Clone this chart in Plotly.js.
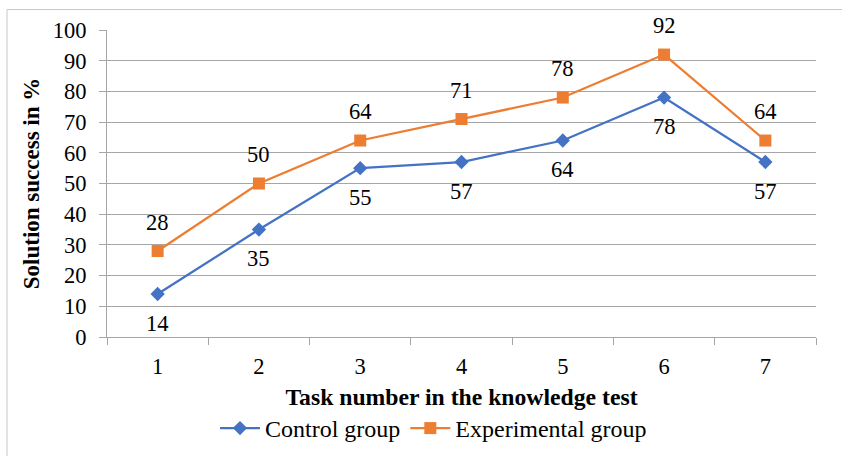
<!DOCTYPE html>
<html>
<head>
<meta charset="utf-8">
<script src="https://cdn.plot.ly/plotly-3.0.1.min.js"></script>
<style>html,body{margin:0;padding:0;background:#fff;}#chart{width:842px;height:456px;}</style>
</head>
<body>
<div id="chart"></div>
<script>
const tasks = ["1", "2", "3", "4", "5", "6", "7"];
const controlGroup = [14, 35, 55, 57, 64, 78, 57];
const experimentalGroup = [28, 50, 64, 71, 78, 92, 64];
const seriesNames = ["Control group", "Experimental group"];

const FONT = "Liberation Serif";
const BLUE = "#4472C4";
const ORANGE = "#ED7D31";
const TICK_SIZE = 22.5;

const traces = [
  {
    x: tasks, y: controlGroup, name: seriesNames[0], type: "scatter", mode: "lines+markers",
    line: {color: BLUE, width: 2.25},
    marker: {symbol: "diamond", size: 11, color: BLUE}
  },
  {
    x: tasks, y: experimentalGroup, name: seriesNames[1], type: "scatter", mode: "lines+markers",
    line: {color: ORANGE, width: 2.25},
    marker: {symbol: "square", size: 12, color: ORANGE}
  }
];

const annotations = [];
tasks.forEach((t, i) => {
  annotations.push({x: i, y: controlGroup[i], text: String(controlGroup[i]), showarrow: false,
    yshift: -29, font: {family: FONT, size: TICK_SIZE, color: "#000"}});
  annotations.push({x: i, y: experimentalGroup[i], text: String(experimentalGroup[i]), showarrow: false,
    yshift: 29, font: {family: FONT, size: TICK_SIZE, color: "#000"}});
});

const layout = {
  width: 842, height: 456,
  margin: {l: 107, r: 26, t: 29.5, b: 119.3, pad: 0, autoexpand: false},
  paper_bgcolor: "#fff", plot_bgcolor: "#fff",
  font: {family: FONT, size: TICK_SIZE, color: "#000"},
  showlegend: true,
  legend: {orientation: "h", x: 0.4605, xanchor: "center", y: -0.298, yanchor: "middle",
    font: {family: FONT, size: 24, color: "#000"}, itemwidth: 40, traceorder: "normal"},
  xaxis: {
    type: "category", range: [-0.5, 6.5], automargin: false,
    showgrid: false, showline: true, linecolor: "#a6a6a6", linewidth: 1,
    ticks: "outside", tickson: "boundaries", ticklen: 7, tickcolor: "#a6a6a6",
    ticklabelstandoff: 9,
    tickfont: {family: FONT, size: TICK_SIZE, color: "#000"},
    title: {text: "<b>Task number in the knowledge test</b>", font: {family: FONT, size: 23.7, color: "#000"}, standoff: 10},
    fixedrange: true
  },
  yaxis: {
    range: [0, 100], dtick: 10, tick0: 0, automargin: false,
    showgrid: true, gridcolor: "#a6a6a6", gridwidth: 1,
    showline: true, linecolor: "#a6a6a6", linewidth: 1,
    ticks: "outside", ticklen: 7, tickcolor: "#a6a6a6",
    ticklabelstandoff: 8,
    tickfont: {family: FONT, size: TICK_SIZE, color: "#000"},
    zeroline: false,
    title: {text: "<b>Solution success in %</b>", font: {family: FONT, size: 23, color: "#000"}, standoff: 6},
    fixedrange: true
  },
  annotations: annotations,
  shapes: [{
    type: "rect", xref: "paper", yref: "paper",
    x0: (7 - 107) / 709, x1: (850 - 107) / 709,
    y0: (336.7 - 470) / 307.2, y1: (336.7 - 9) / 307.2,
    line: {color: "#c8c8c8", width: 1}, layer: "below"
  }]
};

Plotly.newPlot("chart", traces, layout, {staticPlot: true, displayModeBar: false});
</script>
</body>
</html>
